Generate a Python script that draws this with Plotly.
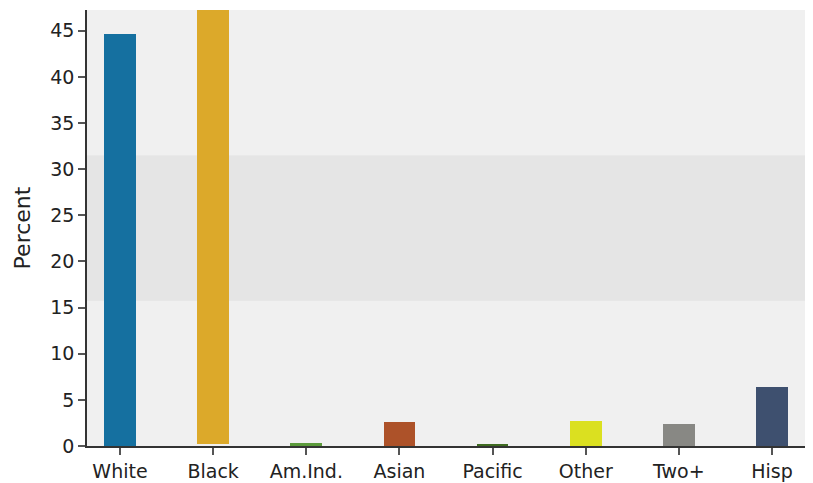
import plotly.graph_objects as go

categories = ["White", "Black", "Am.Ind.", "Asian", "Pacific", "Other", "Two+", "Hisp"]
values = [44.6, 49.0, 0.35, 2.6, 0.12, 2.75, 2.35, 6.35]
bases = [0, 0.2, 0, 0, 0, 0, 0, 0]
colors = ["#1570a0", "#dca92a", "#5b9a3b", "#ad5229", "#3f6b21", "#dbe020", "#888884", "#3e506f"]
y_max = 47.25
band_edges = [0, 15.75, 31.5, 47.25]
band_colors = ["#f0f0f0", "#e5e5e5", "#f0f0f0"]

fig = go.Figure()
fig.add_trace(go.Bar(
    x=categories,
    y=[v - b for v, b in zip(values, bases)],
    base=bases,
    marker=dict(color=colors, line=dict(width=0)),
    width=0.34,
    showlegend=False,
))

shapes = []
for i in range(len(band_colors)):
    shapes.append(dict(type="rect", xref="paper", yref="y", x0=0, x1=1,
                       y0=band_edges[i], y1=band_edges[i + 1],
                       fillcolor=band_colors[i], line=dict(width=0), layer="below"))

fig.update_layout(
    width=813, height=483,
    margin=dict(l=87, r=8, t=10, b=37, autoexpand=False),
    paper_bgcolor="white",
    plot_bgcolor="#f0f0f0",
    font=dict(family="DejaVu Sans", size=19, color="#222222"),
    shapes=shapes,
    bargap=0,
)
fig.update_xaxes(
    range=[-0.354, 7.354],
    showline=True, linecolor="#333333", linewidth=1.5,
    ticks="outside", ticklen=7, tickcolor="#555555", tickwidth=1.5,
    showgrid=False, zeroline=False, automargin=False,
    tickfont=dict(size=19),
)
fig.update_yaxes(
    range=[0, y_max],
    title=dict(text="Percent", font=dict(size=22), standoff=14),
    showline=True, linecolor="#333333", linewidth=1.5,
    ticks="outside", ticklen=7, tickcolor="#555555", tickwidth=1.5,
    tickvals=[0, 5, 10, 15, 20, 25, 30, 35, 40, 45],
    showgrid=False, zeroline=False, automargin=False,
    tickfont=dict(size=19),
)

fig.write_html("out.html", config={"displayModeBar": False},
               post_script="document.body.style.margin='0';")
